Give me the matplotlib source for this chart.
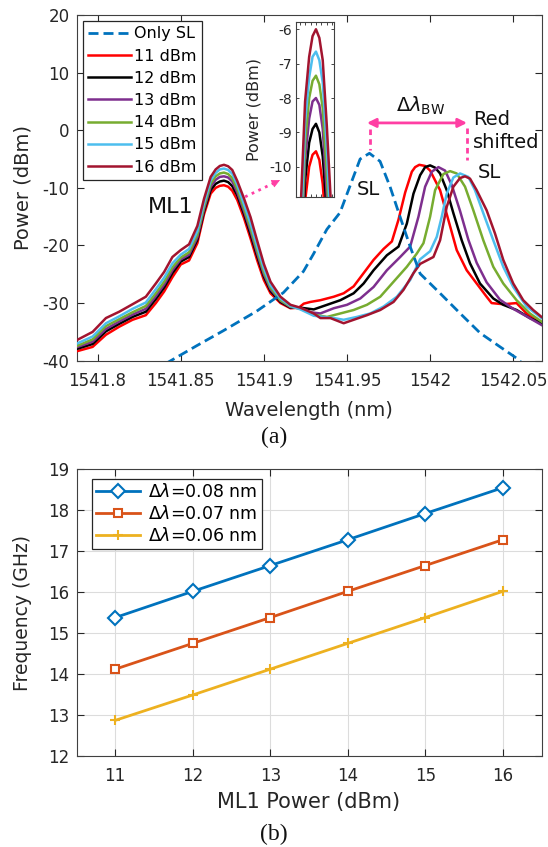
import matplotlib
matplotlib.use("Agg")
import matplotlib.pyplot as plt
from matplotlib.ticker import FormatStrFormatter, MultipleLocator

plt.rcParams["font.family"] = ["DejaVu Sans"]
plt.rcParams["axes.unicode_minus"] = False

# === (a) optical spectra ===
# ML1 part of every trace, on one shared wavelength grid (nm / dBm)
wl_ml1 = [1541.787, 1541.797, 1541.805, 1541.813, 1541.821, 1541.829, 1541.835,
          1541.840, 1541.845, 1541.850, 1541.855, 1541.860, 1541.864, 1541.868,
          1541.871, 1541.8735, 1541.876, 1541.8785, 1541.881, 1541.884, 1541.888,
          1541.892, 1541.896, 1541.900, 1541.904, 1541.910, 1541.916]
ml1_11 = [-38.4, -37.6, -35.5, -34.1, -32.9, -32.1, -30.0, -28.0, -25.5, -23.3, -22.6,
          -19.6, -14.6, -11.0, -10.0, -9.65, -9.55, -9.8, -10.5, -12.1, -15.2, -18.8,
          -22.6, -26.0, -28.3, -30.0, -30.9]
ml1_12 = [-38.0, -37.1, -34.9, -33.6, -32.4, -31.5, -29.3, -27.3, -24.8, -22.8, -22.0,
          -19.0, -14.1, -10.4, -9.3, -8.9, -8.75, -9.0, -9.7, -11.3, -14.5, -18.1,
          -21.9, -25.4, -27.9, -29.8, -30.8]
ml1_13 = [-37.7, -36.7, -34.5, -33.2, -32.0, -31.0, -28.8, -26.8, -24.3, -22.4, -21.6,
          -18.6, -13.7, -9.8, -8.6, -8.1, -8.0, -8.2, -8.9, -10.8, -14.0, -17.5,
          -21.4, -25.0, -27.6, -29.6, -30.7]
ml1_14 = [-37.5, -36.3, -34.0, -32.8, -31.6, -30.5, -28.3, -26.3, -23.8, -22.1, -21.2,
          -18.1, -13.3, -9.3, -8.0, -7.5, -7.35, -7.6, -8.3, -10.2, -13.5, -17.0,
          -20.9, -24.6, -27.3, -29.5, -30.6]
ml1_15 = [-37.1, -35.8, -33.5, -32.3, -31.0, -29.9, -27.6, -25.6, -23.1, -21.6, -20.6,
          -17.5, -12.7, -8.7, -7.4, -6.8, -6.65, -6.9, -7.55, -9.45, -12.8, -16.2,
          -20.2, -24.0, -26.9, -29.2, -30.5]
ml1_16 = [-36.5, -35.0, -32.6, -31.5, -30.2, -28.9, -26.6, -24.6, -22.0, -20.8, -19.8,
          -16.6, -11.9, -8.1, -6.8, -6.2, -6.0, -6.25, -6.9, -8.8, -11.8, -15.1,
          -19.2, -23.2, -26.3, -28.9, -30.3]

# SL part of every trace (each has its own grid, peaks shift to the red)
sl_wl_11 = [1541.921, 1541.924, 1541.928, 1541.934, 1541.942, 1541.948, 1541.954,
            1541.960, 1541.966, 1541.972, 1541.977, 1541.981, 1541.985, 1541.989,
            1541.991, 1541.9935, 1541.997, 1542.000, 1542.006, 1542.011, 1542.016,
            1542.022, 1542.028, 1542.034, 1542.037, 1542.044, 1542.052, 1542.058, 1542.067]
sl_p_11 = [-30.8, -30.1, -29.8, -29.5, -28.9, -28.3, -27.1, -24.8, -22.5, -20.6, -19.3,
           -15.5, -10.8, -7.2, -6.4, -6.0, -6.2, -7.0, -10.4, -15.6, -20.8, -24.3,
           -26.6, -28.9, -30.0, -30.2, -30.0, -31.8, -33.5]
sl_wl_12 = [1541.922, 1541.930, 1541.938, 1541.946, 1541.954, 1541.960, 1541.966,
            1541.974, 1541.981, 1541.986, 1541.990, 1541.994, 1541.997, 1542.000,
            1542.003, 1542.006, 1542.010, 1542.014, 1542.019, 1542.024, 1542.030,
            1542.038, 1542.044, 1542.052, 1542.060, 1542.067]
sl_p_12 = [-30.8, -31.1, -30.3, -29.5, -28.3, -26.6, -24.3, -21.7, -20.2, -16.2, -11.0,
           -7.8, -6.4, -6.1, -6.5, -7.5, -10.4, -14.4, -19.1, -23.1, -26.6, -29.2,
           -30.3, -31.2, -32.6, -33.5]
sl_wl_13 = [1541.922, 1541.928, 1541.934, 1541.942, 1541.950, 1541.958, 1541.966,
            1541.974, 1541.982, 1541.988, 1541.993, 1541.997, 1542.001, 1542.005,
            1542.009, 1542.013, 1542.018, 1542.023, 1542.028, 1542.034, 1542.042,
            1542.050, 1542.058, 1542.067]
sl_p_13 = [-30.9, -31.6, -31.8, -30.9, -30.3, -29.2, -27.2, -24.3, -22.0, -20.2, -15.0,
           -9.8, -7.2, -6.4, -7.0, -9.5, -14.0, -19.0, -23.0, -26.4, -29.4, -31.0,
           -32.3, -33.8]
sl_wl_14 = [1541.922, 1541.930, 1541.938, 1541.946, 1541.954, 1541.962, 1541.970,
            1541.978, 1541.986, 1541.992, 1541.996, 1542.000, 1542.003, 1542.008,
            1542.012, 1542.016, 1542.021, 1542.026, 1542.032, 1542.038, 1542.044,
            1542.052, 1542.060, 1542.067]
sl_p_14 = [-31.0, -32.0, -32.4, -31.8, -31.2, -30.3, -28.9, -26.3, -23.7, -21.4, -19.6,
           -15.0, -10.4, -7.6, -7.1, -7.5, -9.8, -13.9, -19.1, -23.7, -26.6, -29.5,
           -31.8, -33.2]
sl_wl_15 = [1541.922, 1541.930, 1541.942, 1541.948, 1541.956, 1541.964, 1541.972,
            1541.980, 1541.988, 1541.994, 1542.000, 1542.004, 1542.007, 1542.010,
            1542.014, 1542.018, 1542.023, 1542.027, 1542.032, 1542.038, 1542.044,
            1542.050, 1542.058, 1542.067]
sl_p_15 = [-31.1, -32.2, -32.6, -32.9, -32.4, -31.8, -30.6, -28.9, -26.0, -22.4, -21.0,
           -18.5, -15.0, -11.0, -8.2, -7.5, -8.1, -10.4, -14.4, -19.1, -23.7, -27.2,
           -30.6, -32.6]
sl_wl_16 = [1541.922, 1541.930, 1541.934, 1541.940, 1541.948, 1541.954, 1541.962,
            1541.970, 1541.978, 1541.984, 1541.990, 1541.994, 1542.002, 1542.006,
            1542.010, 1542.014, 1542.018, 1542.021, 1542.024, 1542.028, 1542.034,
            1542.039, 1542.044, 1542.050, 1542.056, 1542.062, 1542.067]
sl_p_16 = [-30.8, -31.8, -32.6, -32.6, -33.5, -32.9, -32.1, -31.2, -29.8, -27.7, -24.8,
           -23.2, -22.0, -19.1, -13.3, -9.8, -8.3, -8.0, -8.4, -10.4, -13.9, -17.9,
           -22.5, -26.6, -29.5, -31.2, -32.4]

# free-running slave laser
wl_only_sl = [1541.841, 1541.8596, 1541.8756, 1541.8957, 1541.9117, 1541.9238, 1541.9298,
              1541.9379, 1541.9458, 1541.9519, 1541.9579, 1541.9635, 1541.9699, 1541.9759,
              1541.9819, 1541.9880, 1541.9940, 1542.0060, 1542.0181, 1542.0301, 1542.0421,
              1542.0522, 1542.056]
p_only_sl = [-40.5, -37.4, -34.8, -31.4, -28.2, -24.5, -21.5, -17.2, -14.3, -9.6, -5.0,
             -4.0, -5.4, -9.8, -15.0, -20.2, -24.9, -28.3, -31.8, -35.2, -37.6, -39.6, -40.6]

power_labels = ["11 dBm", "12 dBm", "13 dBm", "14 dBm", "15 dBm", "16 dBm"]
ml1_parts = [ml1_11, ml1_12, ml1_13, ml1_14, ml1_15, ml1_16]
sl_wl_parts = [sl_wl_11, sl_wl_12, sl_wl_13, sl_wl_14, sl_wl_15, sl_wl_16]
sl_p_parts = [sl_p_11, sl_p_12, sl_p_13, sl_p_14, sl_p_15, sl_p_16]
trace_colors = ["#FF0000", "#000000", "#7E2F8E", "#77AC30", "#4DBEEE", "#A2142F"]

# === (b) beat frequency vs ML1 power ===
ml1_power = [11, 12, 13, 14, 15, 16]
freq_008 = [15.38, 16.02, 16.65, 17.28, 17.92, 18.55]
freq_007 = [14.12, 14.75, 15.38, 16.02, 16.65, 17.28]
freq_006 = [12.87, 13.49, 14.12, 14.75, 15.38, 16.02]

TXT = "#262626"
PINK = "#FF3FA4"

fig = plt.figure(figsize=(5.48, 8.47), dpi=100)
W, H = 548.0, 847.0


def style_axes(ax):
    for s in ax.spines.values():
        s.set_color("#404040")
        s.set_linewidth(0.8)
    ax.tick_params(direction="in", top=True, right=True, colors=TXT,
                   labelsize=12, length=5, width=0.8)
    ax.tick_params(axis="x", pad=8)
    ax.tick_params(axis="y", pad=5)


# ---------------- panel (a) ----------------
ax1 = fig.add_axes([76.5 / W, 1 - 360.7 / H, 465 / W, 345.7 / H])
ax1.plot(wl_only_sl, p_only_sl, "--", color="#0072BD", lw=2.0, dashes=(3.6, 1.8),
         label="Only SL", zorder=4)
for lab, ml, swl, sp, c in zip(power_labels, ml1_parts, sl_wl_parts, sl_p_parts, trace_colors):
    ax1.plot(wl_ml1 + swl, ml + sp, color=c, lw=1.8, label=lab, zorder=3)

ax1.set_xlim(1541.7873, 1542.067)
ax1.set_ylim(-40, 20)
ax1.set_xticks([1541.8, 1541.85, 1541.9, 1541.95, 1542.0, 1542.05])
ax1.set_yticks(range(-40, 21, 10))
ax1.xaxis.set_major_formatter(FormatStrFormatter("%g"))
style_axes(ax1)
ax1.set_xlabel("Wavelength (nm)", fontsize=14, color=TXT)
ax1.xaxis.set_label_coords(0.5, -0.118)
ax1.set_ylabel("Power (dBm)", fontsize=14, color=TXT)
ax1.yaxis.set_label_coords(-0.095, 0.5)

leg1 = ax1.legend(loc="upper left", bbox_to_anchor=(0.0133, 0.983), borderaxespad=0,
                  fontsize=11.5, labelspacing=0.45, handlelength=2.7, handletextpad=0.15,
                  borderpad=0.35, fancybox=False, framealpha=1, edgecolor="#262626")
leg1.get_frame().set_linewidth(0.9)

# annotations
ax1.text(1541.8442, -13.3, "ML1", fontsize=16, ha="center", va="center", color="#111111")
ax1.text(1541.9627, -10.3, "SL", fontsize=14, ha="center", va="center", color="#111111")
ax1.text(1542.0259, -0.1, "Red\nshifted", fontsize=14, ha="left", va="center",
         linespacing=1.3, color="#111111")
ax1.text(1542.0289, -7.3, "SL", fontsize=14, ha="left", va="center", color="#111111")
ax1.text(1541.9946, 4.2, r"$\Delta\lambda_{\mathrm{BW}}$", fontsize=14, ha="center",
         va="center", color="#111111")
ax1.annotate("", xy=(1541.9620, 1.27), xytext=(1542.0222, 1.27),
             arrowprops=dict(arrowstyle="<|-|>", color=PINK, lw=2, mutation_scale=13,
                             shrinkA=0, shrinkB=0), zorder=5)
ax1.plot([1541.9639, 1541.9639], [0.2, -3.4], "--", color=PINK, lw=2, dashes=(2, 1.5))
ax1.plot([1542.0223, 1542.0223], [0.35, -5.2], "--", color=PINK, lw=2, dashes=(2, 1.5))
ax1.plot([1541.8887, 1541.9060], [-11.56, -9.17], ":", color=PINK, lw=2)
ax1.annotate("", xy=(1541.9097, -8.66), xytext=(1541.9050, -9.31),
             arrowprops=dict(arrowstyle="-|>", color=PINK, lw=0.5, mutation_scale=13,
                             shrinkA=0, shrinkB=0))

# inset: zoom on ML1 peaks
axin = fig.add_axes([296 / W, 1 - 196.7 / H, 38 / W, 175 / H])
for ml, c in zip(ml1_parts, trace_colors):
    axin.plot(wl_ml1, ml, color=c, lw=1.8)
axin.set_xlim(1541.8613, 1541.8893)
axin.set_ylim(-10.87, -5.78)
axin.set_yticks([-10, -9, -8, -7, -6])
axin.xaxis.set_major_locator(MultipleLocator(0.004))
axin.set_xticklabels([])
for s in axin.spines.values():
    s.set_color("#404040")
    s.set_linewidth(0.8)
axin.tick_params(direction="in", top=True, right=True, colors=TXT, labelsize=10,
                 length=2.5, width=0.6, pad=3)
axin.set_ylabel("Power (dBm)", fontsize=11.5, color=TXT)
axin.yaxis.set_label_coords(-0.9, 0.5)

fig.text(0.5, 1 - 437 / H, "(a)", fontsize=17, family="Liberation Serif",
         ha="center", va="center", color="#111111")

# ---------------- panel (b) ----------------
ax2 = fig.add_axes([76.5 / W, 1 - 756 / H, 465 / W, 286.7 / H])
ax2.plot(ml1_power, freq_008, "-D", color="#0072BD", lw=2, ms=7, mfc="white", mew=1.5,
         label=r"$\Delta\lambda$=0.08 nm")
ax2.plot(ml1_power, freq_007, "-s", color="#D95319", lw=2, ms=6, mfc="white", mew=1.5,
         label=r"$\Delta\lambda$=0.07 nm")
ax2.plot(ml1_power, freq_006, "-+", color="#EDB120", lw=2, ms=7, mew=1.5,
         label=r"$\Delta\lambda$=0.06 nm")
ax2.set_xlim(10.5, 16.5)
ax2.set_ylim(12, 19)
ax2.set_xticks(ml1_power)
ax2.set_yticks(range(12, 20))
ax2.grid(True, color="#dcdcdc", lw=0.8)
ax2.set_axisbelow(True)
style_axes(ax2)
ax2.set_xlabel("ML1 Power (dBm)", fontsize=15, color=TXT)
ax2.xaxis.set_label_coords(0.5, -0.125)
ax2.set_ylabel("Frequency (GHz)", fontsize=13.5, color=TXT)
ax2.yaxis.set_label_coords(-0.095, 0.5)
leg2 = ax2.legend(loc="upper left", bbox_to_anchor=(0.033, 0.966), borderaxespad=0,
                  fontsize=12.5, labelspacing=0.22, handlelength=2.5, handletextpad=0.5,
                  borderpad=0.25, numpoints=1, fancybox=False, framealpha=1,
                  edgecolor="#262626")
leg2.get_frame().set_linewidth(0.9)

fig.text(0.5, 1 - 834 / H, "(b)", fontsize=17, family="Liberation Serif",
         ha="center", va="center", color="#111111")

fig.savefig("out.png", dpi=100)
